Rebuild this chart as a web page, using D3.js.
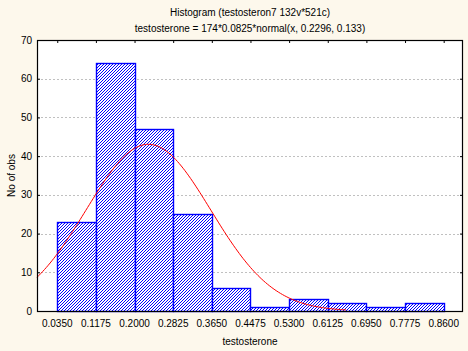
<!DOCTYPE html>
<html>
<head>
<meta charset="utf-8">
<script src="https://cdn.jsdelivr.net/npm/d3@7"></script>
<style>
  body { margin: 0; background: #fdf8ec; }
  svg { display: block; }
</style>
</head>
<body>
<div id="chart"></div>
<script>
let width = 468, height = 351;
let margin = ({top: 40, right: 5, bottom: 40, left: 37});

// bin edges (tick labels) and counts
let binEdges = [0.035, 0.1175, 0.2, 0.2825, 0.365, 0.4475, 0.53, 0.6125, 0.695, 0.7775, 0.86];
let counts = [23, 64, 47, 25, 6, 1, 3, 2, 1, 2];
let yTicks = [0, 10, 20, 30, 40, 50, 60, 70];
// fitted normal from the subtitle
let fitN = 174, fitStep = 0.0825, fitMean = 0.2296, fitSd = 0.133;
let curveEnd = 0.655;

let bins = counts.map((c, i) => ({x0: binEdges[i], x1: binEdges[i + 1], n: c}));

let x = d3.scaleLinear()
    .domain([binEdges[0] - fitStep / 2 - 0.002, binEdges[binEdges.length - 1] + fitStep / 2])
    .range([margin.left, width - margin.right]);
let y = d3.scaleLinear()
    .domain([0, 70])
    .range([height - margin.bottom, margin.top]);

let svg = d3.select("#chart").append("svg")
    .attr("width", width).attr("height", height)
    .attr("font-family", "Arial, 'Liberation Sans', sans-serif")
    .attr("font-size", 10);

// pixel hatch: one-pixel diagonal every 3px
let defs = svg.append("defs");
defs.append("pattern")
    .attr("id", "hatch")
    .attr("patternUnits", "userSpaceOnUse")
    .attr("width", 3).attr("height", 3)
    .attr("shape-rendering", "crispEdges")
    .call(p => p.append("rect").attr("width", 3).attr("height", 3).attr("fill", "#fff"))
    .call(p => p.selectAll("rect.px")
        .data([[0, 2], [1, 1], [2, 0]])
        .join("rect")
        .attr("class", "px")
        .attr("x", d => d[0]).attr("y", d => d[1])
        .attr("width", 1).attr("height", 1)
        .attr("fill", "#0000ff"));

// plot area
svg.append("rect")
    .attr("x", margin.left).attr("y", margin.top)
    .attr("width", width - margin.left - margin.right)
    .attr("height", height - margin.top - margin.bottom)
    .attr("fill", "#fff");

// grid
svg.append("g")
    .selectAll("line")
    .data(yTicks.slice(1, -1))
    .join("line")
    .attr("x1", margin.left).attr("x2", width - margin.right)
    .attr("y1", d => Math.round(y(d)) + 0.5).attr("y2", d => Math.round(y(d)) + 0.5)
    .attr("stroke", "#c0c0c0")
    .attr("stroke-dasharray", "2,2");

// bars
svg.append("g")
    .selectAll("rect")
    .data(bins)
    .join("rect")
    .attr("x", d => Math.round(x(d.x0)) + 0.5)
    .attr("y", d => Math.round(y(d.n)) + 0.5)
    .attr("width", d => Math.round(x(d.x1)) - Math.round(x(d.x0)))
    .attr("height", d => Math.round(y(0)) - Math.round(y(d.n)))
    .attr("fill", "url(#hatch)")
    .attr("stroke", "#0000ff")
    .attr("stroke-width", 1.4);

// normal fit curve
let normal = v => fitN * fitStep * Math.exp(-0.5 * ((v - fitMean) / fitSd) ** 2) / (fitSd * Math.sqrt(2 * Math.PI));
let xs = d3.range(x.domain()[0], curveEnd, 0.004);
svg.append("path")
    .datum(xs)
    .attr("fill", "none")
    .attr("stroke", "#ff0000")
    .attr("stroke-width", 1)
    .attr("d", d3.line().x(d => x(d)).y(d => y(normal(d))));

// frame
svg.append("rect")
    .attr("x", margin.left + 0.5).attr("y", margin.top + 0.5)
    .attr("width", width - margin.left - margin.right - 1)
    .attr("height", height - margin.top - margin.bottom)
    .attr("fill", "none")
    .attr("stroke", "#000")
    .attr("stroke-width", 1.2);

// inward ticks
let xAxisTop = g => g
    .attr("transform", `translate(0,${margin.top})`)
    .call(d3.axisBottom(x).tickValues(binEdges).tickSize(3).tickFormat(""))
    .call(g => g.select(".domain").remove());
svg.append("g").call(xAxisTop);

let yAxis = g => g
    .attr("transform", `translate(${margin.left},0)`)
    .call(d3.axisRight(y).tickValues(yTicks).tickSize(3).tickFormat(""))
    .call(g => g.select(".domain").remove());
svg.append("g").call(yAxis);
svg.append("g")
    .attr("transform", `translate(${width - margin.right},0)`)
    .call(d3.axisLeft(y).tickValues(yTicks).tickSize(3).tickFormat(""))
    .call(g => g.select(".domain").remove());

// tick labels
svg.append("g")
    .selectAll("text")
    .data(binEdges)
    .join("text")
    .attr("x", d => x(d))
    .attr("y", height - margin.bottom + 16)
    .attr("text-anchor", "middle")
    .text(d => d.toFixed(4));

svg.append("g")
    .selectAll("text")
    .data(yTicks)
    .join("text")
    .attr("x", margin.left - 5)
    .attr("y", d => y(d) + 3.5)
    .attr("text-anchor", "end")
    .text(d => d);

// titles
svg.append("text")
    .attr("x", 250).attr("y", 16)
    .attr("text-anchor", "middle")
    .text("Histogram (testosteron7 132v*521c)");
svg.append("text")
    .attr("x", 250).attr("y", 32)
    .attr("text-anchor", "middle")
    .text("testosterone = 174*0.0825*normal(x, 0.2296, 0.133)");
svg.append("text")
    .attr("x", 250).attr("y", height - 6)
    .attr("text-anchor", "middle")
    .text("testosterone");
svg.append("text")
    .attr("transform", `translate(15,${(margin.top + height - margin.bottom) / 2}) rotate(-90)`)
    .attr("text-anchor", "middle")
    .text("No of obs");
</script>
</body>
</html>
